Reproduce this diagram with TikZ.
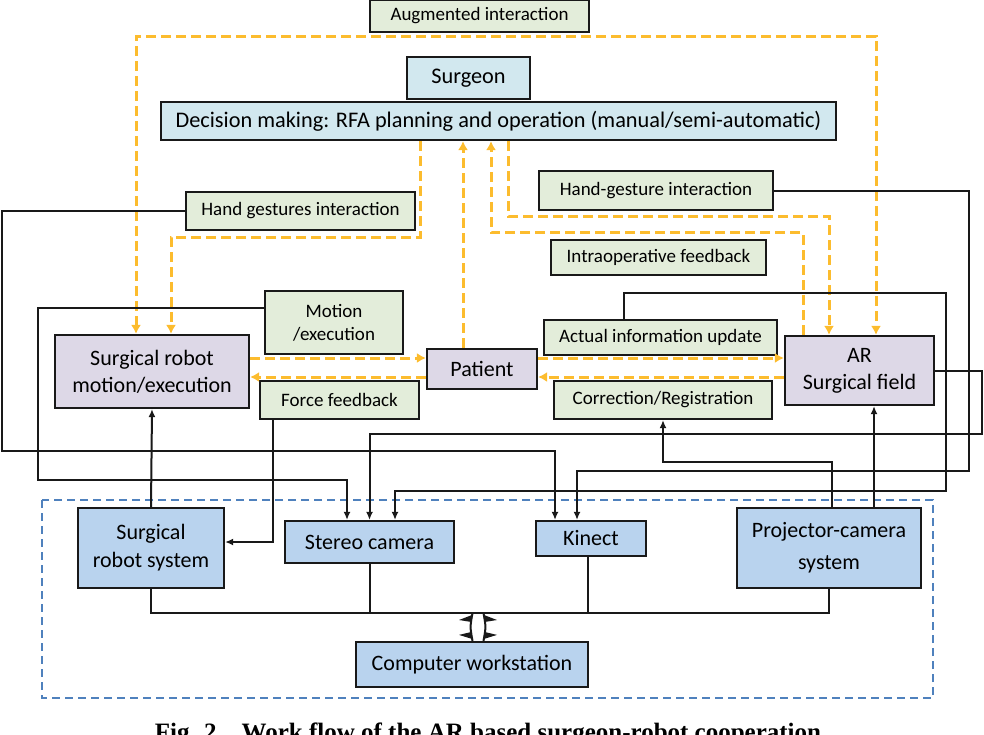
\documentclass[tikz,border=0pt]{standalone}
\usepackage{fontspec}
\setmainfont{Carlito}
\newfontfamily\capfont{Liberation Serif}
\usetikzlibrary{arrows.meta}
\definecolor{greenbox}{RGB}{227,237,218}
\definecolor{cyanbox}{RGB}{210,232,239}
\definecolor{lilacbox}{RGB}{221,216,231}
\definecolor{devbox}{RGB}{185,211,238}
\definecolor{amber}{RGB}{252,188,46}
\definecolor{frameblue}{RGB}{79,129,189}
\begin{document}
\begin{tikzpicture}[x=1pt,y=-1pt,
    plainbox/.style={draw=black!90,line width=2.2pt,inner sep=0pt,align=center},
    notebox/.style={plainbox,fill=greenbox,font=\fontsize{19}{23}\selectfont},
    planbox/.style={plainbox,fill=cyanbox,font=\fontsize{22.3}{26}\selectfont},
    stagebox/.style={plainbox,fill=lilacbox,font=\fontsize{22}{27}\selectfont},
    devicebox/.style={plainbox,fill=devbox,font=\fontsize{22}{28}\selectfont},
    wire/.style={draw=black!90,line width=2pt},
    feed/.style={wire,-{Latex[length=8pt,width=7pt]}},
    flow/.style={draw=amber,line width=3pt,dash pattern=on 10pt off 5pt,-{Latex[length=9pt,width=10pt]}}]
  \useasboundingbox (0,0) rectangle (984,734);
  % system frame
  \draw[frameblue,line width=2.8pt,dash pattern=on 8pt off 5pt] (42,500) rectangle (933,698);
  % blocks
  \node[notebox,minimum width=219pt,minimum height=32pt] (aug) at (479.5,16) {Augmented interaction};
  \node[planbox,minimum width=123pt,minimum height=42pt] (surgeon) at (468.5,78) {Surgeon};
  \node[planbox,minimum width=675pt,minimum height=38pt] (decision) at (498.5,121)
    {Decision making: RFA planning and operation (manual/semi-automatic)};
  \node[notebox,minimum width=229pt,minimum height=38pt] (handgest) at (300.5,211) {Hand gestures interaction};
  \node[notebox,minimum width=234pt,minimum height=39pt] (handgesture) at (656,190.5) {Hand-gesture interaction};
  \node[notebox,minimum width=215pt,minimum height=35pt] (intraop) at (658.5,257.5) {Intraoperative feedback};
  \node[notebox,minimum width=138pt,minimum height=63pt] (motion) at (334,322.5) {Motion\\/execution};
  \node[stagebox,minimum width=194pt,minimum height=73pt] (robot) at (152,371.5) {Surgical robot\\motion/execution};
  \node[stagebox,minimum width=110pt,minimum height=40pt] (patient) at (482,369) {Patient};
  \node[notebox,minimum width=233pt,minimum height=35pt] (actual) at (660.5,337.5) {Actual information update};
  \node[stagebox,minimum width=149pt,minimum height=69pt] (ar) at (859.5,370.5) {AR\\Surgical field};
  \node[notebox,minimum width=159pt,minimum height=38pt] (force) at (339.5,400) {Force feedback};
  \node[notebox,minimum width=218pt,minimum height=38pt] (correction) at (663,400) {Correction/Registration};
  \node[devicebox,minimum width=146pt,minimum height=80pt] (robotsys) at (151,548) {Surgical\\robot system};
  \node[devicebox,minimum width=169pt,minimum height=42pt] (stereo) at (369.5,542) {Stereo camera};
  \node[devicebox,minimum width=110pt,minimum height=35pt] (kinect) at (591,538.5) {Kinect};
  \node[devicebox,minimum width=184pt,minimum height=80pt,font=\fontsize{22}{32}\selectfont] (projector) at (829,548) {Projector-camera\\system};
  \node[devicebox,minimum width=232pt,minimum height=45pt] (computer) at (472,664.5) {Computer workstation};
  \node[anchor=base,font=\capfont\bfseries\fontsize{25}{30}\selectfont] (caption) at (488,740)
    {Fig. 2\quad Work flow of the AR based surgeon-robot cooperation};
  % interaction flows
  \begin{scope}[flow]
    \draw[{Latex[length=9pt,width=10pt]}-{Latex[length=9pt,width=10pt]}] ([xshift=-16pt]robot.north) |- (876,36) -- ([xshift=16.5pt]ar.north);
    \draw ([xshift=-78.5pt]decision.south) -- ++(0,96) -| ([xshift=19pt]robot.north);
    \draw ([xshift=-19pt]patient.north) -- ([xshift=-19pt]patient.north |- decision.south);
    \draw ([xshift=-56.5pt]ar.north) -- ++(0,-102) -| ([xshift=-7.5pt]decision.south);
    \draw ([xshift=9.5pt]decision.south) -- ++(0,75) -| ([xshift=-30.5pt]ar.north);
    \draw (robot.east |- 0,358) -- (patient.west |- 0,358);
    \draw (patient.west |- 0,377) -- (robot.east |- 0,377);
    \draw (patient.east |- 0,358) -- (ar.west |- 0,358);
    \draw (ar.west |- 0,377) -- (patient.east |- 0,377);
  \end{scope}
  % device links
  \begin{scope}[feed]
    \draw (handgest.west) -| (2,451) -| ([xshift=-36pt]kinect.north);
    \draw ([yshift=14.5pt]motion.west) -| (38,480) -| ([xshift=-22.5pt]stereo.north);
    \draw (ar.east) -| (982,434) -| (stereo.north);
    \draw ([xshift=-36.5pt]actual.north) |- (946,293) |- (395,491) -- ([xshift=25.5pt]stereo.north);
    \draw (handgesture.east) -| (969,471) -| ([xshift=-14pt]kinect.north);
    \draw ([xshift=3pt]projector.north) -- ++(0,-45) -| (correction.south);
    \draw ([xshift=45pt]projector.north) -- ([xshift=45pt]projector.north |- ar.south);
    \draw (robotsys.north) -- (robot.south);
    \draw ([xshift=-66.5pt]force.south) |- ([yshift=6pt]robotsys.east);
  \end{scope}
  % workstation bus
  \coordinate (busleft) at (robotsys.south |- 0,613);
  \coordinate (busright) at (projector.south |- 0,613);
  \coordinate (busmid) at (478,613);
  \draw[wire] (robotsys.south) -- (busleft) -- (busright) -- (projector.south);
  \draw[wire] (stereo.south) -- (stereo.south |- busleft);
  \draw[wire] ([xshift=-3pt]kinect.south) -- ([xshift=-3pt]kinect.south |- busleft);
  % hollow double arrow to the workstation
  \coordinate (linkbot) at (busmid |- computer.north);
  \draw[wire] ([xshift=-5.5pt]busmid) .. controls ([xshift=-8pt,yshift=-14pt]busmid) .. ([xshift=-5.5pt]linkbot);
  \draw[wire] ([xshift=5.5pt]busmid) .. controls ([xshift=8pt,yshift=-14pt]busmid) .. ([xshift=5.5pt]linkbot);
  \fill[black!90] ([xshift=-6pt,yshift=-2pt]busmid) -- ([xshift=-19pt,yshift=-7pt]busmid) -- ([xshift=-6.5pt,yshift=-9pt]busmid) -- cycle;
  \fill[black!90] ([xshift=6pt,yshift=-2pt]busmid) -- ([xshift=19pt,yshift=-7pt]busmid) -- ([xshift=6.5pt,yshift=-9pt]busmid) -- cycle;
  \fill[black!90] ([xshift=-6pt,yshift=2pt]linkbot) -- ([xshift=-19pt,yshift=6pt]linkbot) -- ([xshift=-6.5pt,yshift=9pt]linkbot) -- cycle;
  \fill[black!90] ([xshift=6pt,yshift=2pt]linkbot) -- ([xshift=19pt,yshift=6pt]linkbot) -- ([xshift=6.5pt,yshift=9pt]linkbot) -- cycle;
\end{tikzpicture}
\end{document}
